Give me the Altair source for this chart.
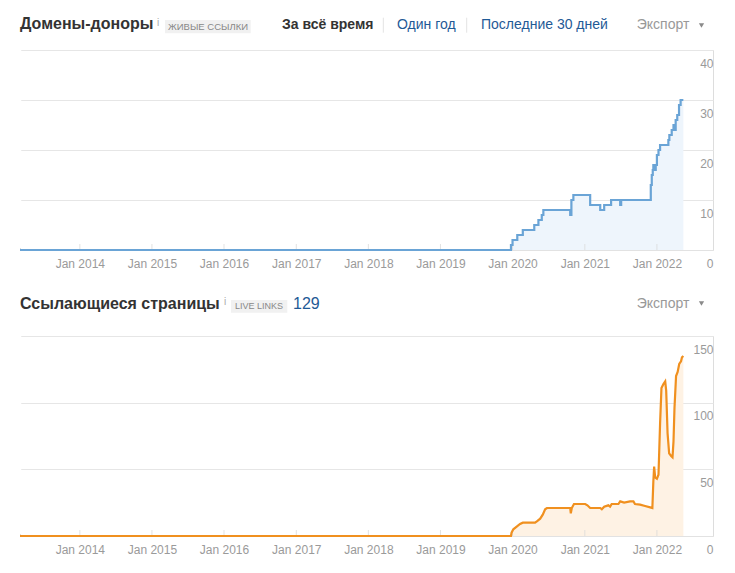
import altair as alt
import pandas as pd

FONT = "Liberation Sans"
W, H = 693, 200

# ---------------- data ----------------
DOMAIN_DATES = [
    "2013-03-04", "2019-12-24", "2020-01-01", "2020-01-25", "2020-02-22",
    "2020-04-20", "2020-05-11", "2020-05-28", "2020-06-05", "2020-10-19",
    "2020-10-25", "2020-11-04", "2021-01-28", "2021-03-20", "2021-04-09",
    "2021-05-14", "2021-06-29", "2021-07-04", "2021-12-01", "2021-12-06",
    "2021-12-11", "2021-12-14", "2021-12-19", "2021-12-26", "2022-01-01",
    "2022-01-09", "2022-01-17", "2022-02-28", "2022-03-05", "2022-03-17",
    "2022-03-26", "2022-03-31", "2022-04-06", "2022-04-14", "2022-04-23",
    "2022-05-01", "2022-05-15",
]
DOMAIN_VALUES = [
    0, 1, 2, 3, 4,
    5, 6, 7, 8, 7,
    10, 11, 9, 8, 9,
    10, 9, 10, 13, 15,
    16, 17, 16, 17, 19,
    20, 21, 22, 23, 24,
    25, 24, 26, 27, 29,
    30, 30,
]

PAGES_DATES = [
    "2013-03-04", "2019-12-24", "2019-12-27", "2020-01-05", "2020-01-22",
    "2020-02-08", "2020-02-22", "2020-04-24", "2020-05-03", "2020-05-20",
    "2020-06-02", "2020-06-14", "2020-06-23", "2020-10-19", "2020-10-22",
    "2020-10-27", "2020-11-07", "2021-01-03", "2021-01-14", "2021-01-28",
    "2021-03-20", "2021-03-28", "2021-04-09", "2021-04-30", "2021-05-09",
    "2021-05-17", "2021-06-20", "2021-06-29", "2021-07-19", "2021-08-18",
    "2021-09-04", "2021-09-12", "2021-10-08", "2021-11-02", "2021-11-28",
    "2021-12-09", "2021-12-14", "2021-12-18", "2021-12-23", "2022-01-01",
    "2022-01-09", "2022-01-17", "2022-01-24", "2022-02-03", "2022-02-12",
    "2022-02-17", "2022-02-24", "2022-03-04", "2022-03-14", "2022-03-21",
    "2022-03-26", "2022-03-31", "2022-04-08", "2022-04-16", "2022-04-24",
    "2022-05-03", "2022-05-08", "2022-05-15",
]
PAGES_VALUES = [
    0, 0, 2.5, 5, 7,
    9, 10, 10, 11, 13,
    16, 20, 21, 21, 17,
    21, 24, 24, 23, 21,
    21, 20, 22, 23, 22,
    24, 24, 26, 25, 26,
    26, 24, 23.5, 22.5, 21.5,
    21, 41, 52, 44, 43,
    46, 84, 111, 114, 116,
    109, 77, 62, 60, 59,
    71, 96, 120, 123, 129,
    131, 134, 135,
]

TICK_YEARS = [2014, 2015, 2016, 2017, 2018, 2019, 2020, 2021, 2022]
TICK_DATES = [f"{y}-01-01" for y in TICK_YEARS]
X_START = (2013, 3, 4)
X_END = (2022, 10, 12)

Y1_TICKS = [0, 10, 20, 30, 40]
Y2_TICKS = [0, 50, 100, 150]

# ---------------- texts ----------------
TITLE1 = "Домены-доноры"
BADGE1 = "ЖИВЫЕ ССЫЛКИ"
TAB_ALL = "За всё время"
TAB_YEAR = "Один год"
TAB_30 = "Последние 30 дней"
EXPORT = "Экспорт"
INFO = "i"
TITLE2 = "Ссылающиеся страницы"
BADGE2 = "LIVE LINKS"
COUNT2 = "129"

BLUE_LINE = "#6aa4d6"
BLUE_FILL = "#eef5fc"
ORANGE_LINE = "#f0901f"
ORANGE_FILL = "#fef2e4"
LINK = "#1f5a96"
DARK = "#333333"
GRAY = "#999999"

x_scale = alt.Scale(
    type="utc",
    domain=[alt.DateTime(year=X_START[0], month=X_START[1], date=X_START[2], utc=True),
            alt.DateTime(year=X_END[0], month=X_END[1], date=X_END[2], utc=True)],
)
x_axis = alt.Axis(
    title=None, format="Jan %Y", values=[alt.DateTime(year=y, month=1, date=1, utc=True) for y in TICK_YEARS],
    ticks=False, domain=True, domainColor="#e2e2e2", grid=False,
    labelFont=FONT, labelFontSize=12, labelColor="#9a9a9a",
    labelBaseline="alphabetic", labelPadding=17.5, labelFlush=False, labelOverlap=False,
)


def y_axis(vals):
    return alt.Axis(
        title=None, orient="right", values=vals, ticks=False, domain=False,
        grid=True, gridColor="#e6e6e6", labelAlign="right", labelPadding=0,
        labelBaseline="alphabetic", labelOffset=17, labelFont=FONT,
        labelFontSize=12, labelColor="#9a9a9a",
    )


def txt(text, x, y, size, color, weight="normal", align="left", font=FONT):
    return alt.Chart(pd.DataFrame({"t": [text]})).mark_text(
        align=align, baseline="alphabetic", fontSize=size, fontWeight=weight,
        color=color, font=font,
    ).encode(x=alt.value(x), y=alt.value(y), text="t:N")


def box(x, x2, y, y2, color):
    return alt.Chart(pd.DataFrame({"k": [0]})).mark_rect(color=color).encode(
        x=alt.value(x), x2=alt.value(x2), y=alt.value(y), y2=alt.value(y2))


def vrule(x, y, y2, color, opacity=1.0, width=1.0):
    return alt.Chart(pd.DataFrame({"k": [0]})).mark_rule(
        color=color, opacity=opacity, strokeWidth=width).encode(
        x=alt.value(x), y=alt.value(y), y2=alt.value(y2))


def tri(x, y):
    return alt.Chart(pd.DataFrame({"k": [0]})).mark_point(
        shape="triangle-down", filled=True, size=28, color="#8a8a8a", opacity=1).encode(
        x=alt.value(x), y=alt.value(y))


def panel(dates, values, line_color, fill_color, ydom, yvals, interp):
    df = pd.DataFrame({"date": dates, "value": values})
    base = alt.Chart(df)
    xe = alt.X("date:T", scale=x_scale, axis=x_axis)
    ye = alt.Y("value:Q", scale=alt.Scale(domain=ydom, nice=False), axis=y_axis(yvals))
    area = base.mark_area(interpolate=interp, color=fill_color, opacity=1).encode(x=xe, y=ye)
    line = base.mark_line(interpolate=interp, color=line_color, strokeWidth=2.2).encode(x=xe, y=ye)
    ticks = alt.Chart(pd.DataFrame({"date": TICK_DATES})).mark_tick(
        orient="vertical", size=6, thickness=1, color="#d6d6d6", yOffset=-3).encode(
        x=xe, y=alt.value(H))
    cover = vrule(0, 0, H - 2, "#ffffff", 1.0, 2.5)
    return [area, ticks, cover, line]


top_layers = panel(DOMAIN_DATES, DOMAIN_VALUES, BLUE_LINE, BLUE_FILL, [0, 40], Y1_TICKS, "step-after")
top_layers += [
    vrule(20, -49, -48, "#ffffff", 0),
    txt(TITLE1, 0, -20.7, 16, DARK, "bold"),
    txt(INFO, 137, -24, 10, "#aaaaaa"),
    box(145, 230.7, -30, -16.7, "#f1f1f1"),
    txt(BADGE1, 188, -20.5, 9.5, "#888888", align="center"),
    txt(TAB_ALL, 262, -20.7, 14, DARK, "bold"),
    vrule(363.3, -32.3, -17.3, "#e3e3e3"),
    txt(TAB_YEAR, 377, -20.7, 14, LINK),
    vrule(446.7, -32.3, -17.3, "#e3e3e3"),
    txt(TAB_30, 461, -20.7, 14, LINK),
    txt(EXPORT, 616.7, -20.7, 14, GRAY),
    tri(681.5, -24.5),
]
top = alt.layer(*top_layers).properties(width=W, height=H)

bot_layers = panel(PAGES_DATES, PAGES_VALUES, ORANGE_LINE, ORANGE_FILL, [0, 150], Y2_TICKS, "linear")
bot_layers += [
    txt(TITLE2, 0, -26.7, 16, DARK, "bold"),
    txt(INFO, 204, -31, 10, "#aaaaaa"),
    box(211, 267.3, -36, -23.3, "#f1f1f1"),
    txt(BADGE2, 239, -27, 9, "#888888", align="center"),
    txt(COUNT2, 273, -27, 16, LINK),
    txt(EXPORT, 616.7, -28, 14, GRAY),
    tri(681.5, -32.5),
]
bottom = alt.layer(*bot_layers).properties(width=W, height=H)

chart = alt.VConcatChart(
    vconcat=[top, bottom], spacing=86, bounds="flush",
    padding={"left": 15, "top": 0, "right": 5, "bottom": 5},
).configure_view(strokeWidth=0, strokeOpacity=0).configure(background="white")

chart.save("out.html", embed_options={"renderer": "svg", "actions": False})
